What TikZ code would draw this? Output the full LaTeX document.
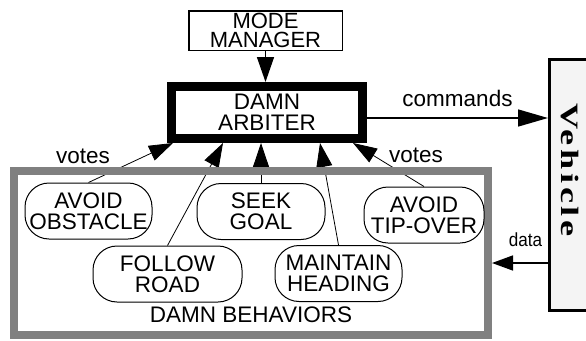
\documentclass[tikz,border=0pt]{standalone}
\usepackage{fontspec}
\setmainfont{Liberation Sans}
\newfontfamily\vehfont[LetterSpace=10]{Liberation Serif}
\usetikzlibrary{arrows.meta,backgrounds}
\definecolor{bandgray}{HTML}{808080}
\definecolor{vehfill}{HTML}{F4F4F4}
\begin{document}
\begin{tikzpicture}[x=1pt,y=-1pt,every node/.style={font=\fontsize{22.5}{21}\selectfont,inner sep=0pt,align=center},
  behavior/.style={draw,line width=1pt,rounded corners=24pt,fill=white,minimum width=#1,minimum height=56},
  link/.style={line width=1.5pt,-{Triangle[length=#1,width=17pt]}},
  vote/.style={line width=.8pt,-{Triangle[length=24pt,width=16pt]}}]
  \useasboundingbox (0,0) rectangle (586,340);
  \node[draw,line width=1.5pt,minimum width=153.5,minimum height=39.5,font=\fontsize{22}{19.5}\selectfont] (mode) at (265.5,30.5) {MODE\\MANAGER};
  \node[draw,line width=9pt,minimum width=191,minimum height=52] (arbiter) at (267,112.5) {DAMN\\ARBITER};
  \node[draw,fill=vehfill,line width=3pt,minimum width=41,minimum height=251] (vehicle) at (570,185) {};
  \node[rotate=-90,xscale=1.45,font={\vehfont\bfseries\fontsize{25}{25}\selectfont}] (vehname) at (570,170) {Vehicle};
  \node[draw=bandgray,line width=8pt,minimum width=474,minimum height=164] (damn) at (251,253) {};
  \node (damnlabel) at (251,314.5) {DAMN BEHAVIORS};
  \node[behavior=127] (avoidobs) at (88.5,211) {AVOID\\OBSTACLE};
  \node[behavior=128] (seekgoal) at (261,211.5) {SEEK\\GOAL};
  \node[behavior=120] (tipover) at (424,215) {AVOID\\TIP-OVER};
  \node[behavior=149] (followroad) at (167.5,274) {FOLLOW\\ROAD};
  \node[behavior=127] (maintain) at (338.5,273.5) {MAINTAIN\\HEADING};
  \node (votesl) at (83,156) {votes};
  \node (votesr) at (416,155) {votes};
  \draw[link=25pt] (mode.south) -- (mode.south |- arbiter.north);
  \draw[link=30pt] ([yshift=-5.5pt]arbiter.east) -- ([yshift=-5.5pt]arbiter.east -| vehicle.west)
    node[midway,above=11pt] {commands};
  \draw[line width=1.5pt,-{Triangle[length=21pt,width=15pt]}] ([yshift=-78pt]vehicle.west) -- ([yshift=-78pt]vehicle.west -| damn.east)
    node[pos=.4,above=16pt,xscale=.9,font=\fontsize{19}{19}\selectfont] {data};
  \begin{scope}[on background layer]
    \draw[vote] (avoidobs.north) -- ([xshift=-94pt]arbiter.south);
    \draw[vote] (followroad.north) -- ([xshift=-44pt]arbiter.south);
    \draw[vote] (seekgoal.north) -- (seekgoal.north |- arbiter.south);
    \draw[vote] (maintain.north) -- ([xshift=53pt]arbiter.south);
    \draw[vote] (tipover.north) -- ([xshift=86pt]arbiter.south);
  \end{scope}
\end{tikzpicture}
\end{document}
